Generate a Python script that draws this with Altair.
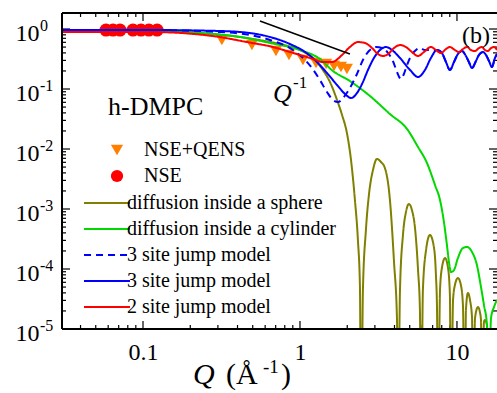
import altair as alt
import numpy as np
import pandas as pd

# ---------------- data ----------------
# measured points
nse_q = [0.0581, 0.0644, 0.0714, 0.0863, 0.0971, 0.109, 0.123]
nse_v = [0.96, 0.96, 0.96, 0.96, 0.96, 0.96, 0.96]
qens_q = [0.318, 0.494, 0.703, 0.851, 1.045, 1.265, 1.466, 1.648, 1.824, 1.991]
qens_v = [0.656, 0.541, 0.430, 0.369, 0.304, 0.271, 0.261, 0.242, 0.233, 0.215]

# model curves, read as log10(Q) / log10(value); -7 marks the zeros of the curve
sph_lq = [-1.516, -0.955, -0.637, -0.382, -0.223, -0.127, 0.000, 0.083, 0.146, 0.191, 0.236, 0.268,
          0.299, 0.325, 0.350, 0.369, 0.382, 0.389,
          0.401, 0.420, 0.439, 0.465, 0.490, 0.516, 0.541, 0.573, 0.599, 0.618, 0.624,
          0.637, 0.656, 0.675, 0.694, 0.713, 0.732, 0.752, 0.764, 0.771,
          0.783, 0.803, 0.828, 0.854, 0.866, 0.873, 0.879,
          0.892, 0.904, 0.924, 0.943, 0.955, 0.962,
          0.975, 0.987, 1.006, 1.025, 1.038, 1.051,
          1.057, 1.070, 1.083, 1.096, 1.102,
          1.115, 1.134, 1.146, 1.153, 1.159,
          1.172, 1.178, 1.191, 1.204]
sph_lv = [-0.033, -0.033, -0.067, -0.133, -0.200, -0.250, -0.350, -0.483, -0.683, -0.883, -1.183, -1.433,
          -1.733, -2.183, -2.850, -3.517, -4.300, -7,
          -4.350, -3.350, -2.767, -2.350, -2.167, -2.217, -2.317, -2.850, -3.883, -4.850, -7,
          -4.350, -3.433, -3.050, -2.917, -3.017, -3.300, -4.017, -4.683, -7,
          -4.350, -3.683, -3.433, -3.650, -4.100, -4.683, -7,
          -4.350, -3.983, -3.817, -3.983, -4.433, -7,
          -4.517, -4.267, -4.150, -4.267, -4.600, -7,
          -4.683, -4.400, -4.517, -4.817, -7,
          -4.817, -4.633, -4.717, -4.850, -7,
          -4.883, -4.850, -4.933, -7]

cyl_lq = [-1.516, -0.955, -0.637, -0.382, -0.191, 0.000, 0.127, 0.210, 0.318, 0.446, 0.573, 0.682,
          0.752, 0.809, 0.860, 0.892, 0.917, 0.936, 0.949, 0.962, 0.981, 1.006, 1.038, 1.064,
          1.096, 1.127, 1.153, 1.172, 1.191, 1.197, 1.217, 1.236, 1.255]
cyl_lv = [-0.033, -0.033, -0.067, -0.133, -0.233, -0.350, -0.500, -0.700, -0.867, -1.117, -1.417, -1.667,
          -1.967, -2.233, -2.600, -2.850, -3.217, -3.600, -3.883, -4.050, -4.017, -3.817, -3.650, -3.633,
          -3.717, -3.933, -4.300, -4.600, -4.933, -7, -4.817, -4.633, -4.517]

j3_lq = [-1.516, -0.955, -0.510, -0.318, -0.191, -0.064, 0.032, 0.108, 0.172, 0.236, 0.287, 0.325,
         0.363, 0.401, 0.433, 0.471, 0.510, 0.548, 0.586, 0.637, 0.701, 0.752, 0.796, 0.834,
         0.873, 0.904, 0.930, 0.955, 0.981, 1.006, 1.032, 1.057, 1.076, 1.096, 1.121, 1.140,
         1.166, 1.185, 1.204, 1.223, 1.242, 1.255]
j3_lv = [-0.017, -0.017, -0.033, -0.067, -0.133, -0.250, -0.383, -0.550, -0.733, -0.933, -1.083, -1.150,
         -1.067, -0.883, -0.683, -0.483, -0.350, -0.300, -0.350, -0.483, -0.683, -0.800, -0.683, -0.483,
         -0.350, -0.400, -0.550, -0.683, -0.550, -0.417, -0.367, -0.450, -0.550, -0.650, -0.533, -0.433,
         -0.383, -0.433, -0.533, -0.633, -0.483, -0.417]

j3d_lq = [-1.516, -0.955, -0.510, -0.318, -0.191, -0.064, 0.013, 0.076, 0.127, 0.172, 0.210, 0.242,
          0.274, 0.318, 0.363, 0.401, 0.439, 0.484, 0.522, 0.561, 0.592, 0.618, 0.643, 0.662,
          0.682, 0.707, 0.739, 0.764, 0.796, 0.834,
          0.873, 0.904, 0.930, 0.955, 0.981, 1.006, 1.032, 1.057, 1.076, 1.096, 1.121, 1.140,
          1.166, 1.185, 1.204, 1.223, 1.242, 1.255]
j3d_lv = [-0.017, -0.017, -0.050, -0.100, -0.183, -0.317, -0.467, -0.650, -0.850, -1.050, -1.183, -1.217,
          -1.150, -0.983, -0.750, -0.517, -0.367, -0.300, -0.317, -0.400, -0.533, -0.717, -0.833, -0.750,
          -0.600, -0.450, -0.350, -0.317, -0.350, -0.350,
          -0.350, -0.400, -0.550, -0.683, -0.550, -0.417, -0.367, -0.450, -0.550, -0.650, -0.533, -0.433,
          -0.383, -0.433, -0.533, -0.633, -0.483, -0.417]

j2_lq = [-1.516, -0.955, -0.554, -0.338, -0.172, -0.064, 0.000, 0.083, 0.146, 0.204, 0.268, 0.318,
         0.369, 0.414, 0.459, 0.497, 0.529, 0.561, 0.599, 0.637, 0.675, 0.713, 0.752, 0.790,
         0.834, 0.866, 0.898, 0.930, 0.955, 0.987, 1.013, 1.038, 1.064, 1.089, 1.115, 1.140,
         1.159, 1.178, 1.197, 1.217, 1.236, 1.255]
j2_lv = [-0.050, -0.050, -0.117, -0.217, -0.300, -0.383, -0.433, -0.500, -0.550, -0.550, -0.433, -0.300,
         -0.217, -0.233, -0.317, -0.417, -0.450, -0.417, -0.317, -0.267, -0.300, -0.383, -0.450, -0.383,
         -0.300, -0.350, -0.400, -0.333, -0.300, -0.350, -0.383, -0.333, -0.300, -0.350, -0.367, -0.317,
         -0.300, -0.350, -0.367, -0.317, -0.300, -0.350]

slope_q = [0.556, 2.08]
slope_v = [1.36, 0.383]

x_major = [0.1, 1, 10]
x_minor = [0.04, 0.05, 0.06, 0.07, 0.08, 0.09, 0.2, 0.3, 0.4, 0.5, 0.6, 0.7, 0.8, 0.9,
           2, 3, 4, 5, 6, 7, 8, 9]
y_major = [1, 1e-1, 1e-2, 1e-3, 1e-4, 1e-5]
y_exp = ["0", "-1", "-2", "-3", "-4", "-5"]
y_minor = [k * 10.0 ** e for e in range(-5, 0) for k in range(2, 10)]

line_names = ["diffusion inside a sphere", "diffusion inside a cylinder",
              "3 site jump model ", "3 site jump model", "2 site jump model"]
line_colors = ["#808000", "#00d800", "#0000ff", "#0000ff", "#ff0000"]
line_dash = [[1, 0], [1, 0], [7, 5], [1, 0], [1, 0]]
pt_names = ["NSE+QENS", "NSE"]
pt_colors = ["#ff8000", "#ff0000"]
pt_shapes = ["triangle-down", "circle"]

# ---------------- chart ----------------
W, H = 435, 316
FONT = "Liberation Serif"
xs = alt.Scale(type="log", domain=[0.03048, 17.99], nice=False)
ys = alt.Scale(type="log", domain=[1e-5, 1.849], nice=False)

X_AX = alt.Axis(values=x_major, format="~g", domain=False, ticks=False, tickSize=0, grid=False,
                labelFont=FONT, labelFontSize=24, labelColor="black", labelPadding=30,
                labelBaseline="alphabetic", labelFlush=False, labelOverlap=False, title=None)
Y_AX = alt.Axis(values=y_major, labelExpr="'10'", domain=False, ticks=False, tickSize=0, grid=False,
                labelFont=FONT, labelFontSize=24, labelColor="black", labelPadding=23,
                labelBaseline="alphabetic", labelOffset=11, labelFlush=False, labelOverlap=False,
                title=None)

def X(f):
    return alt.X(f + ":Q", scale=xs, axis=X_AX)

def Y(f):
    return alt.Y(f + ":Q", scale=ys, axis=Y_AX)

one = pd.DataFrame({"a": [0]})

# ticks (inward, on all four sides)
def xticks(vals, ln):
    d = pd.DataFrame({"t": vals})
    b = alt.Chart(d).mark_rule(color="black", strokeWidth=1.2).encode(x=X("t"), y=alt.value(H), y2=alt.value(H - ln))
    t = alt.Chart(d).mark_rule(color="black", strokeWidth=1.2).encode(x=X("t"), y=alt.value(0), y2=alt.value(ln))
    return [b, t]

def yticks(vals, ln):
    d = pd.DataFrame({"t": vals})
    l = alt.Chart(d).mark_rule(color="black", strokeWidth=1.2).encode(y=Y("t"), x=alt.value(0), x2=alt.value(ln))
    r = alt.Chart(d).mark_rule(color="black", strokeWidth=1.2).encode(y=Y("t"), x=alt.value(W), x2=alt.value(W - ln))
    return [l, r]

tick_layers = xticks(x_major, 8) + xticks(x_minor, 4) + yticks(y_major, 8) + yticks(y_minor, 4)

frame = [
    alt.Chart(one).mark_rule(color="black", strokeWidth=2).encode(x=alt.value(0), y=alt.value(0), y2=alt.value(H)),
    alt.Chart(one).mark_rule(color="black", strokeWidth=2).encode(x=alt.value(0), x2=alt.value(W), y=alt.value(0)),
    alt.Chart(one).mark_rule(color="black", strokeWidth=2).encode(x=alt.value(0), x2=alt.value(W), y=alt.value(H)),
]

# exponent superscripts of y labels
exp_df = pd.DataFrame({"v": y_major, "e": y_exp})
exps = alt.Chart(exp_df).mark_text(align="left", baseline="alphabetic", dy=2, font=FONT,
                                   fontSize=16, color="black").encode(
    x=alt.value(-22), y=Y("v"), text="e:N")

# points
leg_pts = alt.Legend(title=None, orient="none", legendX=45, legendY=127, symbolSize=150,
                     symbolStrokeWidth=0, labelFont=FONT, labelFontSize=20, labelColor="black",
                     labelLimit=400, labelOffset=17, rowPadding=6, padding=0)
pcol = alt.Color("series:N", scale=alt.Scale(domain=pt_names, range=pt_colors), legend=leg_pts)
pshp = alt.Shape("series:N", scale=alt.Scale(domain=pt_names, range=pt_shapes), legend=leg_pts)
qens_df = pd.DataFrame({"Q": qens_q, "v": qens_v, "series": pt_names[0]})
nse_df = pd.DataFrame({"Q": nse_q, "v": nse_v, "series": pt_names[1]})
points = alt.layer(
    alt.Chart(qens_df).mark_point(filled=True, size=144, opacity=1).encode(x=X("Q"), y=Y("v"), color=pcol, shape=pshp),
    alt.Chart(nse_df).mark_point(filled=True, size=169, opacity=1).encode(x=X("Q"), y=Y("v"), color=pcol, shape=pshp),
)

# lines (legend symbol: a horizontal stroke 4x the symbol's nominal size)
leg_lines = alt.Legend(title=None, orient="none", legendX=35, legendY=180, symbolType="M-4,0H4",
                       symbolSize=132, symbolStrokeWidth=2, symbolFillColor="transparent",
                       labelFont=FONT, labelFontSize=20,
                       labelColor="black", labelLimit=400, labelOffset=10, rowPadding=6, padding=0)
lcol = alt.Color("series:N", scale=alt.Scale(domain=line_names, range=line_colors), legend=leg_lines)
ldash = alt.StrokeDash("series:N", scale=alt.Scale(domain=line_names, range=line_dash), legend=leg_lines)

def curve(lq, lv, name):
    df = pd.DataFrame({"Q": 10 ** np.array(lq, dtype=float), "v": 10 ** np.array(lv, dtype=float), "series": name})
    return alt.Chart(df).mark_line(strokeWidth=2, clip=True, interpolate="monotone").encode(
        x=X("Q"), y=Y("v"), color=lcol, strokeDash=ldash)

lines = alt.layer(
    curve(sph_lq, sph_lv, line_names[0]),
    curve(cyl_lq, cyl_lv, line_names[1]),
    curve(j3d_lq, j3d_lv, line_names[2]),
    curve(j3_lq, j3_lv, line_names[3]),
    curve(j2_lq, j2_lv, line_names[4]),
)

slope = alt.Chart(pd.DataFrame({"Q": slope_q, "v": slope_v})).mark_line(color="black", strokeWidth=1.5).encode(
    x=X("Q"), y=Y("v"))

def txt(s, x, y, size, style="normal"):
    return alt.Chart(one).mark_text(text=s, align="left", baseline="alphabetic", font=FONT, fontSize=size,
                                    fontStyle=style, color="black").encode(x=alt.value(x), y=alt.value(y))

texts = [
    txt("h-DMPC", 46, 102, 26),
    txt("(b)", 400, 30, 24),
    txt("Q", 211, 89, 26, "italic"),
    txt("-1", 231, 75, 17),
    txt("Q", 131, 371, 30, "italic"),
    txt("(Å", 164, 371, 30),
    txt("-1", 201, 360, 19),
    txt(")", 219, 371, 30),
]

chart = alt.layer(
    *tick_layers, points, lines, slope, exps, *texts, *frame
).resolve_scale(
    color="independent", shape="independent", strokeDash="independent"
).properties(
    width=W, height=H,
    autosize=alt.AutoSizeParams(type="none"),
    padding={"left": 62, "top": 13, "right": 0, "bottom": 64},
    background="white",
).configure_view(stroke=None).configure(font=FONT)

chart.save("out.html", embed_options={"renderer": "svg", "actions": False})
